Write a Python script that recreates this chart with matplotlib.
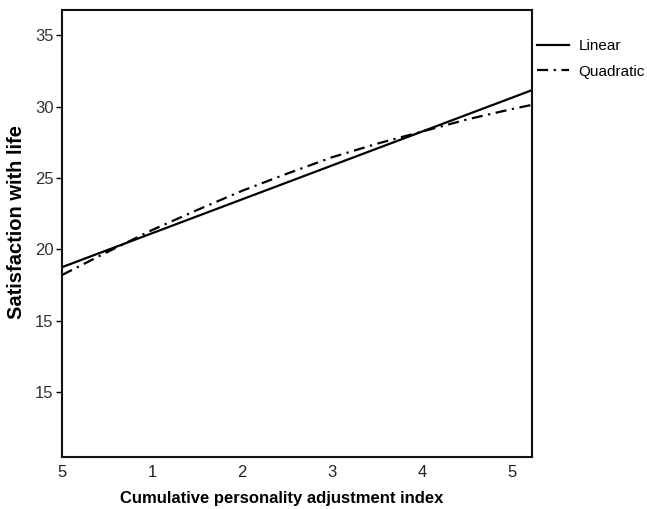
import matplotlib
matplotlib.use("Agg")
import matplotlib.pyplot as plt

# values
lin_x = [0.0, 5.22]
lin_y = [18.75, 31.15]
quad_x = [0.0, 0.5, 1.0, 1.5, 2.0, 2.5, 3.0, 3.5, 4.0, 4.5, 5.0, 5.22]
quad_y = [18.2, 19.8, 21.35, 22.75, 24.1, 25.3, 26.45, 27.4, 28.25, 29.1, 29.83, 30.12]

y_ticks = [10, 15, 20, 25, 30, 35]
y_labels = ['15', '15', '20', '25', '30', '35']
x_ticks = [0, 1, 2, 3, 4, 5]
x_labels = ['5', '1', '2', '3', '4', '5']

plt.rcParams['font.family'] = ['Liberation Sans', 'DejaVu Sans']

fig = plt.figure(figsize=(6.47, 5.09), dpi=100)
ax = fig.add_axes([0.0958, 0.102, 0.7265, 0.878])

ax.plot(lin_x, lin_y, color='black', lw=1.6, label='Linear')
ax.plot(quad_x, quad_y, color='black', lw=1.6, linestyle=(0, (5, 2.5, 1, 2.5)),
        label='Quadratic')

ax.set_xlim(0, 5.22)
ax.set_ylim(5.45, 36.75)
ax.set_yticks(y_ticks)
ax.set_yticklabels(y_labels)
ax.set_xticks(x_ticks)
ax.set_xticklabels(x_labels)
ax.tick_params(axis='y', length=4, width=1, labelsize=12, labelcolor='#333333', pad=2)
ax.tick_params(axis='x', length=0, labelsize=12, labelcolor='#222222', pad=6)

for s in ax.spines.values():
    s.set_linewidth(1.5)
    s.set_color('#111111')

ax.set_xlabel('Cumulative personality adjustment index', fontweight='bold', fontsize=12)
ax.set_ylabel('Satisfaction with life', fontweight='bold', fontsize=14.5)
ax.xaxis.set_label_coords(0.468, -0.077)
ax.yaxis.set_label_coords(-0.077, 0.526)

fig.legend(loc='upper left', bbox_to_anchor=(0.830, 0.923), frameon=False,
           fontsize=11, handlelength=2.1, handletextpad=0.6, labelspacing=0.75,
           borderaxespad=0, borderpad=0)

fig.savefig('out.png', dpi=100)
